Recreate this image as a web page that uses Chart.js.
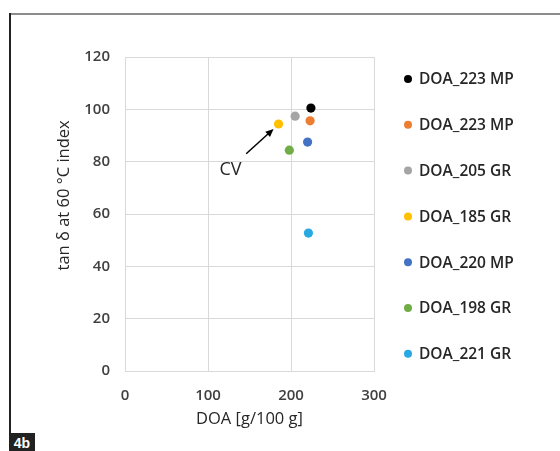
<!DOCTYPE html>
<html lang="en">
<head>
  <meta charset="UTF-8" />
  <title>tan δ at 60 °C index vs DOA</title>
  <script src="https://cdn.jsdelivr.net/npm/chart.js"></script>
  <style>
    html, body { margin: 0; padding: 0; background: #fff; }
    #wrap { position: relative; width: 560px; height: 451px; overflow: hidden; }
    #frameTop { position: absolute; left: 9px; top: 13px; width: 551px; height: 2px; background: #8c8c8c; }
    #frameLeft { position: absolute; left: 9px; top: 13px; width: 2px; height: 420px; background: #222; }
    #tag { position: absolute; left: 9px; top: 433px; width: 26px; height: 18px; background: #222;
           color: #fff; font: bold 14px "Liberation Sans", Arial, sans-serif; line-height: 20px; text-align: center; }
    #box { position: absolute; left: 10px; top: 16px; width: 550px; height: 417px; }
  </style>
</head>
<body>
  <div id="wrap">
    <div id="frameTop"></div>
    <div id="frameLeft"></div>
    <div id="box"><canvas id="chart" width="550" height="417"></canvas></div>
    <div id="tag">4b</div>
  </div>

  <script>
    // series (one point each)
    const labels = ['DOA_223 MP', 'DOA_223 MP', 'DOA_205 GR', 'DOA_185 GR', 'DOA_220 MP', 'DOA_198 GR', 'DOA_221 GR'];
    const doa = [224, 223, 205, 185, 220, 198, 221];
    const tanDelta = [100.5, 95.6, 97.4, 94.4, 87.5, 84.4, 52.7];
    const colors = ['#000000', '#ed7d31', '#a5a5a5', '#ffc000', '#4472c4', '#70ad47', '#29a9e1'];

    // CV callout (data coords): label, arrow tail, arrow head
    const cvLabel = [127, 77];
    const cvArrowFrom = [146, 83];
    const cvArrowTo = [179, 92.5];

    const textCol = '#262626';
    const tickCol = '#404040';
    const gridCol = '#d9d9d9';
    const font = '"Open Sans", "Liberation Sans", sans-serif';

    const datasets = labels.map((l, i) => ({
      label: l,
      data: [{ x: doa[i], y: tanDelta[i] }],
      backgroundColor: colors[i],
      borderColor: colors[i],
      pointRadius: 4.6,
      pointHoverRadius: 4.6,
      borderWidth: 0
    }));

    // legend drawn at the right, one row per series
    const sideLegend = {
      id: 'sideLegend',
      afterDraw(chart) {
        const ctx = chart.ctx;
        const x0 = chart.chartArea.right + 34;
        const y0 = chart.chartArea.top + 22;
        const step = 45.8;
        ctx.save();
        ctx.font = '600 15.5px ' + font;
        ctx.textBaseline = 'middle';
        chart.data.datasets.forEach((ds, i) => {
          const y = y0 + i * step;
          ctx.fillStyle = ds.backgroundColor;
          ctx.beginPath();
          ctx.arc(x0, y, 4, 0, Math.PI * 2);
          ctx.fill();
          ctx.fillStyle = textCol;
          ctx.fillText(ds.label, x0 + 11, y + 1);
        });
        ctx.restore();
      }
    };

    // "CV" label with arrow to the reference point
    const cvNote = {
      id: 'cvNote',
      afterDatasetsDraw(chart) {
        const { ctx, scales: { x, y } } = chart;
        const fx = x.getPixelForValue(cvArrowFrom[0]), fy = y.getPixelForValue(cvArrowFrom[1]);
        const tx = x.getPixelForValue(cvArrowTo[0]), ty = y.getPixelForValue(cvArrowTo[1]);
        const ang = Math.atan2(ty - fy, tx - fx);
        ctx.save();
        ctx.strokeStyle = '#000';
        ctx.fillStyle = '#000';
        ctx.lineWidth = 1.5;
        ctx.beginPath();
        ctx.moveTo(fx, fy);
        ctx.lineTo(tx - 5 * Math.cos(ang), ty - 5 * Math.sin(ang));
        ctx.stroke();
        ctx.beginPath();
        ctx.moveTo(tx, ty);
        ctx.lineTo(tx - 8 * Math.cos(ang) + 3.5 * Math.sin(ang), ty - 8 * Math.sin(ang) - 3.5 * Math.cos(ang));
        ctx.lineTo(tx - 8 * Math.cos(ang) - 3.5 * Math.sin(ang), ty - 8 * Math.sin(ang) + 3.5 * Math.cos(ang));
        ctx.closePath();
        ctx.fill();
        ctx.font = '18px ' + font;
        ctx.fillStyle = textCol;
        ctx.textAlign = 'center';
        ctx.textBaseline = 'middle';
        ctx.fillText('CV', x.getPixelForValue(cvLabel[0]), y.getPixelForValue(cvLabel[1]));
        ctx.restore();
      }
    };

    new Chart(document.getElementById('chart'), {
      type: 'scatter',
      data: { datasets },
      options: {
        responsive: false,
        animation: false,
        layout: { padding: { left: 0, top: 41, right: 186, bottom: 0 } },
        plugins: {
          legend: { display: false },
          tooltip: { enabled: false }
        },
        scales: {
          x: {
            min: 0, max: 300,
            ticks: { stepSize: 100, color: tickCol, padding: 16, font: { family: font, size: 15, weight: '600' } },
            grid: { color: gridCol, drawTicks: false },
            border: { color: gridCol },
            title: { display: true, text: 'DOA [g/100 g]', color: textCol, padding: { top: 0, bottom: 4 }, font: { family: font, size: 16.5 } },
            afterFit(s) { s.height = 62; }
          },
          y: {
            min: 0, max: 120,
            ticks: { stepSize: 20, color: tickCol, padding: 15, font: { family: font, size: 15, weight: '600' } },
            grid: { color: gridCol, drawTicks: false },
            border: { color: gridCol },
            // leading spaces nudge the rotated title up, as in the original
            title: { display: true, text: '\u2002\u2002\u2002\u2002 tan δ at 60 °C index', color: textCol, padding: { top: 44, bottom: 0 }, font: { family: font, size: 16.5 } },
            afterFit(s) { s.width = 115; }
          }
        }
      },
      plugins: [sideLegend, cvNote]
    });
  </script>
</body>
</html>
